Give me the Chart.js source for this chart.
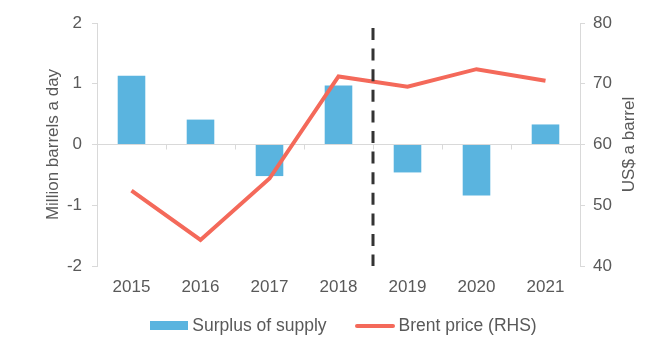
<!DOCTYPE html>
<html>
<head>
<meta charset="utf-8">
<script src="https://cdn.jsdelivr.net/npm/chart.js@4/dist/chart.umd.min.js"></script>
<style>
  html, body { margin: 0; padding: 0; background: #fff; }
  #wrap { position: relative; width: 667px; height: 351px; font-family: "Liberation Sans", Arial, sans-serif; }
  #legend { position: absolute; left: 10px; top: 315px; width: 667px; display: flex; justify-content: center; font-size: 17.5px; color: #595959; }
  .item { display: flex; align-items: center; margin: 0 14px; }
  .sw { display: inline-block; margin-right: 4px; }
</style>
</head>
<body>
<div id="wrap">
  <canvas id="c" width="667" height="351"></canvas>
  <div id="legend">
    <div class="item"><span class="sw" style="width:38px;height:9px;background:#5AB4DF"></span>Surplus of supply</div>
    <div class="item"><span class="sw" style="width:40px;height:4px;background:#F4695A;border-radius:2px"></span>Brent price (RHS)</div>
  </div>
</div>
<script>
const categories = ["2015", "2016", "2017", "2018", "2019", "2020", "2021"];
const surplusOfSupply = [1.13, 0.41, -0.52, 0.97, -0.46, -0.84, 0.33];
const brentPrice = [52.4, 44.3, 54.4, 71.2, 69.5, 72.4, 70.5];
const leftTicks = [-2, -1, 0, 1, 2];
const rightTicks = [40, 50, 60, 70, 80];
const forecastBoundary = 3.5;
const leftTitle = 'Million barrels a day';
const rightTitle = 'US$ a barrel';

const GRAY = '#D9D9D9';
const TEXT = '#595959';
const FAMILY = '"Liberation Sans", Arial, sans-serif';
const FONT = { family: FAMILY, size: 17 };

const extras = {
  id: 'extras',
  afterDatasetsDraw(chart) {
    const { ctx, chartArea } = chart;
    const x = chart.scales.x, y = chart.scales.y;
    const y0 = y.getPixelForValue(0);
    ctx.save();
    ctx.strokeStyle = GRAY;
    ctx.lineWidth = 1;
    for (let i = 1; i < categories.length; i++) {
      const px = Math.round(x.getPixelForValue(i - 0.5)) + 0.5;
      ctx.beginPath();
      ctx.moveTo(px, y0);
      ctx.lineTo(px, y0 + 5);
      ctx.stroke();
    }
    const dx = x.getPixelForValue(forecastBoundary);
    ctx.strokeStyle = '#333333';
    ctx.lineWidth = 3;
    ctx.setLineDash([12, 8.6]);
    ctx.beginPath();
    ctx.moveTo(dx, chartArea.top + 5);
    ctx.lineTo(dx, chartArea.bottom);
    ctx.stroke();
    ctx.restore();

    const cy = (chartArea.top + chartArea.bottom) / 2;
    [[53, leftTitle], [629, rightTitle]].forEach(([tx, txt]) => {
      ctx.save();
      ctx.fillStyle = TEXT;
      ctx.font = '17px ' + FAMILY;
      ctx.textAlign = 'center';
      ctx.textBaseline = 'middle';
      ctx.translate(tx, cy);
      ctx.rotate(-Math.PI / 2);
      ctx.fillText(txt, 0, 0);
      ctx.restore();
    });
  }
};

new Chart(document.getElementById('c'), {
  data: {
    labels: categories,
    datasets: [
      {
        type: 'line',
        label: 'Brent price (RHS)',
        data: brentPrice,
        yAxisID: 'y1',
        borderColor: '#F4695A',
        borderWidth: 4,
        pointRadius: 0,
        tension: 0,
        order: 0
      },
      {
        type: 'bar',
        label: 'Surplus of supply',
        data: surplusOfSupply,
        yAxisID: 'y',
        backgroundColor: '#5AB4DF',
        categoryPercentage: 1,
        barPercentage: 0.4,
        order: 1
      }
    ]
  },
  options: {
    responsive: false,
    animation: false,
    devicePixelRatio: 1,
    layout: { padding: { top: 23, left: 0, right: 0, bottom: 0 } },
    plugins: { legend: { display: false }, tooltip: { enabled: false } },
    scales: {
      x: {
        offset: true,
        grid: { display: false, drawTicks: false },
        border: { display: false },
        ticks: { color: TEXT, font: FONT, padding: 11, maxRotation: 0 },
        afterFit(s) { s.height = 85; }
      },
      y: {
        position: 'left',
        min: -2, max: 2,
        afterBuildTicks(s) { s.ticks = leftTicks.map(v => ({ value: v })); },
        grid: {
          color: c => (c.tick && c.tick.value === 0) ? GRAY : 'transparent',
          tickColor: GRAY,
          tickLength: 5,
          lineWidth: 1
        },
        border: { display: true, color: GRAY },
        ticks: { color: TEXT, font: FONT, padding: 10 },
        afterFit(s) { s.width = 97; }
      },
      y1: {
        position: 'right',
        min: 40, max: 80,
        afterBuildTicks(s) { s.ticks = rightTicks.map(v => ({ value: v })); },
        grid: { drawOnChartArea: false, tickColor: GRAY, tickLength: 5 },
        border: { display: true, color: GRAY },
        ticks: { color: TEXT, font: FONT, padding: 8 },
        afterFit(s) { s.width = 87; }
      }
    }
  },
  plugins: [extras]
});
</script>
</body>
</html>
